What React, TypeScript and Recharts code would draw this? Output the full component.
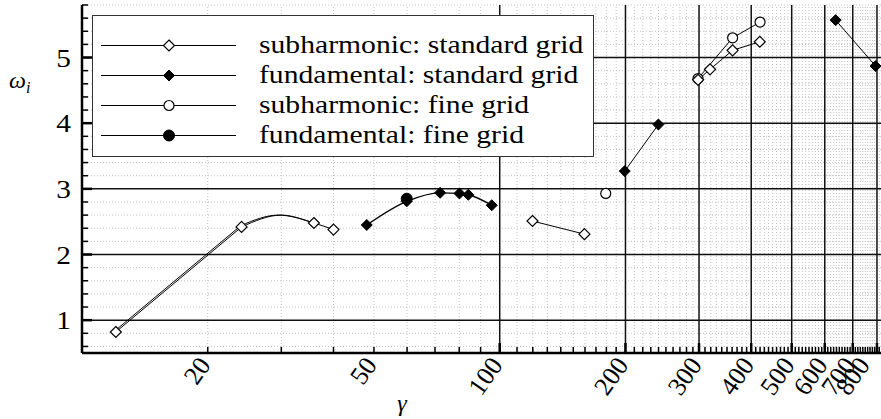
import React from 'react';
import { ComposedChart, Line, Scatter, XAxis, YAxis, ReferenceLine, Legend } from 'recharts';

// ---- data (gamma = x, omega_i = y) ----
const subStdGamma = [12.05, 24.1, 35.9, 40.0, 119.8, 159.5, 298.4, 318.7, 361, 419.3];
const subStdOmega = [0.82, 2.42, 2.48, 2.38, 2.51, 2.31, 4.66, 4.82, 5.11, 5.24];

const fundStdGamma = [48.05, 59.9, 72.0, 80.1, 84.1, 95.7, 199.2, 239.8, 637, 794];
const fundStdOmega = [2.45, 2.81, 2.94, 2.93, 2.91, 2.75, 3.27, 3.98, 5.57, 4.87];

const subFineGamma = [179.4, 298.4, 361, 420];
const subFineOmega = [2.93, 4.68, 5.3, 5.54];

const fundFineGamma = [59.9];
const fundFineOmega = [2.85];

// curve traces (line segments)
const subStdSeg1aGamma = [12.05, 24.1];
const subStdSeg1aOmega = [0.82, 2.42];
const subStdSeg1bGamma = [11.95, 24.0];
const subStdSeg1bOmega = [0.83, 2.44];
const subStdCurveGamma = [24.1, 30, 35.9, 40.0];
const subStdCurveOmega = [2.42, 2.6, 2.48, 2.38];
const subStdCurve2Gamma = [24.0, 29.5, 35.9];
const subStdCurve2Omega = [2.44, 2.6, 2.48];
const subStdSeg2Gamma = [119.8, 159.5];
const subStdSeg2Omega = [2.51, 2.31];
const subStdSeg3Gamma = [298.4, 318.7, 361, 419.3];
const subStdSeg3Omega = [4.66, 4.82, 5.11, 5.24];

const fundStdSeg1Gamma = [48.05, 59.9, 72.0, 80.1, 84.1, 95.7];
const fundStdSeg1Omega = [2.45, 2.81, 2.94, 2.93, 2.91, 2.75];
const fundStdSeg2Gamma = [199.2, 239.8];
const fundStdSeg2Omega = [3.27, 3.98];
const fundStdSeg3Gamma = [637, 794];
const fundStdSeg3Omega = [5.57, 4.87];

const subFineSegGamma = [298.4, 361, 420];
const subFineSegOmega = [4.68, 5.3, 5.54];

// ---- ticks ----
const yMajor = [1, 2, 3, 4, 5];
const yMinor = [0.6, 0.8, 1.2, 1.4, 1.6, 1.8, 2.2, 2.4, 2.6, 2.8, 3.2, 3.4, 3.6, 3.8, 4.2, 4.4, 4.6, 4.8, 5.2, 5.4, 5.6, 5.8];
const xMajor = [100, 200, 300, 400, 500, 600, 700, 800];
const xLabels = [20, 50, 100, 200, 300, 400, 500, 600, 700, 800];
const xMinorFirst = [20, 30, 40, 50, 60, 70, 80, 90];
const xMinor: number[] = [...xMinorFirst];
for (const base of xMajor) {
  for (let k = 1; k <= 9; k++) {
    const v = base + k * 10;
    if (v <= 810 && !xMajor.includes(v)) xMinor.push(v);
  }
}

const legendLabels = [
  'subharmonic: standard grid',
  'fundamental: standard grid',
  'subharmonic: fine grid',
  'fundamental: fine grid',
];

const pts = (g: number[], w: number[]) => g.map((x, i) => ({ x, y: w[i] }));

const FONT = 'Liberation Serif, Tinos, Times New Roman, Times, Nimbus Roman, DejaVu Serif, serif';

const openDiamond = (p: any) => (
  <path d={`M${p.cx},${p.cy - 5.5}L${p.cx + 5.5},${p.cy}L${p.cx},${p.cy + 5.5}L${p.cx - 5.5},${p.cy}Z`} fill="#fff" stroke="#000" strokeWidth={1.2} />
);
const filledDiamond = (p: any) => (
  <path d={`M${p.cx},${p.cy - 5.5}L${p.cx + 5.5},${p.cy}L${p.cx},${p.cy + 5.5}L${p.cx - 5.5},${p.cy}Z`} fill="#000" stroke="#000" strokeWidth={1} />
);
const openCircle = (p: any) => <circle cx={p.cx} cy={p.cy} r={5} fill="#fff" stroke="#000" strokeWidth={1.2} />;
const filledCircle = (p: any) => <circle cx={p.cx} cy={p.cy} r={5.5} fill="#000" stroke="#000" />;
const shapes = [openDiamond, filledDiamond, openCircle, filledCircle];

const YTick = (props: any) => {
  const { x, y, payload } = props;
  const v = payload.value;
  const major = yMajor.includes(v);
  return (
    <g>
      <line x1={x} x2={x + (major ? 10 : 6)} y1={y} y2={y} stroke="#000" strokeWidth={major ? 2.5 : 1.5} />
      {major && (
        <text transform={`translate(${x - 11},${y}) scale(1.13,1)`} dy="0.35em" textAnchor="end" fontSize={26} style={{ fontFamily: FONT }} fill="#000">
          {v}
        </text>
      )}
    </g>
  );
};

const XTick = (props: any) => {
  const { x, y, payload } = props;
  const v = payload.value;
  const major = xMajor.includes(v);
  const labeled = xLabels.includes(v);
  const ax = Math.min(x + 4, 871);
  return (
    <g>
      <line x1={x} x2={x} y1={y} y2={y - (major ? 10 : 6)} stroke="#000" strokeWidth={major ? 2.5 : 1.5} />
      {labeled && (
        <text transform={`translate(${ax},${y + 12}) rotate(-55)`} textAnchor="end" fontSize={26} style={{ fontFamily: FONT }} fill="#000">
          {v}
        </text>
      )}
    </g>
  );
};

const LegendBox = () => (
  <div
    style={{
      width: 502,
      height: 142,
      boxSizing: 'border-box',
      border: '1.5px solid #333',
      background: '#fff',
      paddingTop: 14,
      fontFamily: FONT,
      position: 'relative',
    }}
  >
    {legendLabels.map((lab, i) => {
      const S = shapes[i];
      return (
        <div key={i} style={{ height: 30, position: 'relative' }}>
          <svg width={140} height={30} style={{ position: 'absolute', left: 7.5, top: 0 }}>
            <line x1={0} x2={135} y1={15.5} y2={15.5} stroke="#000" strokeWidth={1} />
            <S cx={68} cy={15.5} />
          </svg>
          <span
            style={{
              position: 'absolute',
              left: 165.5,
              top: 0,
              fontSize: 26,
              lineHeight: '30px',
              whiteSpace: 'nowrap',
              transform: 'scaleX(1.14)',
              transformOrigin: 'left center',
              color: '#000',
              fontFamily: FONT,
            }}
          >
            {lab}
          </span>
        </div>
      );
    })}
  </div>
);

export default function App() {
  return (
    <div style={{ position: 'absolute', left: 0, top: 0, width: 881, height: 419, background: '#fff', fontFamily: FONT }}>
      <ComposedChart width={881} height={419} margin={{ top: 5, right: 0, bottom: 0, left: 0 }} style={{ fontFamily: FONT }}>
        <XAxis
          dataKey="x"
          type="number"
          scale="log"
          domain={[10, 818]}
          allowDataOverflow
          ticks={[...xMinor, ...xMajor].sort((a, b) => a - b)}
          interval={0}
          tickSize={0}
          tickMargin={0}
          tickLine={false}
          tick={<XTick />}
          height={66}
          axisLine={{ stroke: '#000', strokeWidth: 2.5 }}
          label={{
            content: () => (
              <text x={402} y={411} textAnchor="middle" fontSize={24} fontStyle="italic" style={{ fontFamily: FONT }} fill="#000">
                γ
              </text>
            ),
          }}
        />
        <YAxis
          dataKey="y"
          type="number"
          domain={[0.5, 5.8]}
          allowDataOverflow
          ticks={[...yMinor, ...yMajor].sort((a, b) => a - b)}
          interval={0}
          tickSize={0}
          tickMargin={0}
          tickLine={false}
          tick={<YTick />}
          width={82}
          axisLine={{ stroke: '#000', strokeWidth: 2.5 }}
          label={{
            content: () => (
              <text x={9} y={88} fontSize={24} fontStyle="italic" style={{ fontFamily: FONT }} fill="#000">
                ω<tspan fontSize={16} dy={5}>i</tspan>
              </text>
            ),
          }}
        />
        {yMinor.map((v) => (
          <ReferenceLine key={'ym' + v} y={v} stroke="#c4c4c4" strokeWidth={1} strokeDasharray="1 2" />
        ))}
        {xMinor.map((v) => (
          <ReferenceLine key={'xm' + v} x={v} stroke="#c4c4c4" strokeWidth={1} strokeDasharray="1 2" />
        ))}
        {yMajor.map((v) => (
          <ReferenceLine key={'yM' + v} y={v} stroke="#111" strokeWidth={1.5} />
        ))}
        {xMajor.map((v) => (
          <ReferenceLine key={'xM' + v} x={v} stroke="#111" strokeWidth={1.5} />
        ))}

        <Line data={pts(subStdSeg1aGamma, subStdSeg1aOmega)} dataKey="y" type="linear" stroke="#000" strokeWidth={1} dot={false} isAnimationActive={false} legendType="none" />
        <Line data={pts(subStdSeg1bGamma, subStdSeg1bOmega)} dataKey="y" type="linear" stroke="#000" strokeWidth={1} dot={false} isAnimationActive={false} legendType="none" />
        <Line data={pts(subStdCurveGamma, subStdCurveOmega)} dataKey="y" type="monotone" stroke="#000" strokeWidth={1} dot={false} isAnimationActive={false} legendType="none" />
        <Line data={pts(subStdCurve2Gamma, subStdCurve2Omega)} dataKey="y" type="monotone" stroke="#000" strokeWidth={1} dot={false} isAnimationActive={false} legendType="none" />
        <Line data={pts(subStdSeg2Gamma, subStdSeg2Omega)} dataKey="y" type="linear" stroke="#000" strokeWidth={1} dot={false} isAnimationActive={false} legendType="none" />
        <Line data={pts(subStdSeg3Gamma, subStdSeg3Omega)} dataKey="y" type="linear" stroke="#000" strokeWidth={1} dot={false} isAnimationActive={false} legendType="none" />
        <Line data={pts(fundStdSeg1Gamma, fundStdSeg1Omega)} dataKey="y" type="monotone" stroke="#000" strokeWidth={1.3} dot={false} isAnimationActive={false} legendType="none" />
        <Line data={pts(fundStdSeg2Gamma, fundStdSeg2Omega)} dataKey="y" type="linear" stroke="#000" strokeWidth={1} dot={false} isAnimationActive={false} legendType="none" />
        <Line data={pts(fundStdSeg3Gamma, fundStdSeg3Omega)} dataKey="y" type="linear" stroke="#000" strokeWidth={1} dot={false} isAnimationActive={false} legendType="none" />
        <Line data={pts(subFineSegGamma, subFineSegOmega)} dataKey="y" type="linear" stroke="#000" strokeWidth={1} dot={false} isAnimationActive={false} legendType="none" />

        <Scatter data={pts(subFineGamma, subFineOmega)} shape={openCircle} isAnimationActive={false} legendType="none" />
        <Scatter data={pts(subStdGamma, subStdOmega)} shape={openDiamond} isAnimationActive={false} legendType="none" />
        <Scatter data={pts(fundFineGamma, fundFineOmega)} shape={filledCircle} isAnimationActive={false} legendType="none" />
        <Scatter data={pts(fundStdGamma, fundStdOmega)} shape={filledDiamond} isAnimationActive={false} legendType="none" />

        <Legend
          layout="horizontal"
          verticalAlign="middle"
          align="center"
          content={<LegendBox />}
          wrapperStyle={{ left: 92, top: 15, width: 502, height: 142 }}
        />
      </ComposedChart>
    </div>
  );
}
